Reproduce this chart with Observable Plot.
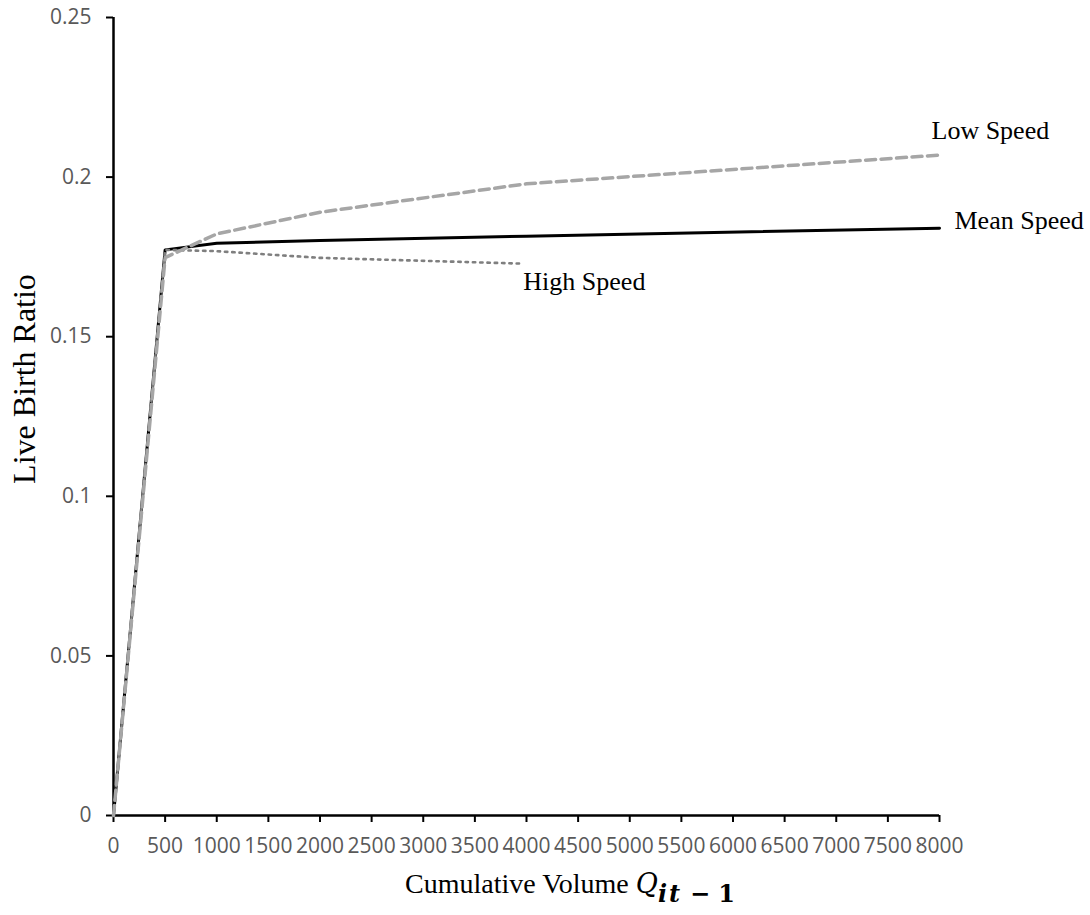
<!DOCTYPE html>
<html>
<head>
<meta charset="utf-8">
<script src="https://cdn.jsdelivr.net/npm/d3@7"></script>
<script src="https://cdn.jsdelivr.net/npm/@observablehq/plot@0.6"></script>
<style>
  html, body { margin: 0; padding: 0; background: #fff; }
  #chart { width: 1090px; height: 915px; }
</style>
</head>
<body>
<div id="chart"></div>
<script>
// Data
const volumes   = [0, 500, 1000, 2000, 4000, 8000];
const lowSpeed  = [0, 0.1748, 0.1822, 0.189, 0.1979, 0.2069];
const meanSpeed = [0, 0.1772, 0.1793, 0.1801, 0.1815, 0.184];
const highVolumes = [0, 500, 1000, 2000, 3950];
const highSpeed = [0, 0.1772, 0.1768, 0.1747, 0.1729];
const xTicks = d3.range(0, 8001, 500);
const yTicks = [0, 0.05, 0.1, 0.15, 0.2, 0.25];
const seriesLabels = ["Low Speed", "Mean Speed", "High Speed"];

const low  = volumes.map((x, i) => ({x, y: lowSpeed[i]}));
const mean = volumes.map((x, i) => ({x, y: meanSpeed[i]}));
const high = highVolumes.map((x, i) => ({x, y: highSpeed[i]}));

const W = 1090, H = 915;
const serif = "'Liberation Serif', 'Times New Roman', serif";
const sans = "'Open Sans', 'Noto Sans', sans-serif";
const math = "'DejaVu Serif', serif";

const plot = Plot.plot({
  width: W,
  height: H,
  marginLeft: 113,
  marginRight: 151,
  marginTop: 17,
  marginBottom: 100,
  style: {fontFamily: sans, fontSize: "21px", color: "#595959", background: "#fff", overflow: "visible"},
  x: {domain: [0, 8000], ticks: xTicks, tickFormat: d => String(d), label: null},
  y: {domain: [0, 0.25], ticks: yTicks, tickFormat: d => String(+d.toFixed(2)), label: null},
  marks: [
    Plot.axisX({ticks: xTicks, tickFormat: d => String(d), tickSize: 7, tickPadding: 16, stroke: "#000", strokeWidth: 2, fill: "#595959", label: null}),
    Plot.axisY({ticks: yTicks, tickFormat: d => String(+d.toFixed(2)), tickSize: 7, tickPadding: 15, stroke: "#000", strokeWidth: 2, fill: "#595959", label: null}),
    Plot.ruleX([0], {stroke: "#000", strokeWidth: 2.5}),
    Plot.ruleY([0], {stroke: "#000", strokeWidth: 2.5}),
    Plot.line(mean, {x: "x", y: "y", stroke: "#000", strokeWidth: 3}),
    Plot.line(high, {x: "x", y: "y", stroke: "#7f7f7f", strokeWidth: 2.6, strokeDasharray: "2.4,4.9"}),
    Plot.line(low, {x: "x", y: "y", stroke: "#a6a6a6", strokeWidth: 3.5, strokeDasharray: "10,5.5"}),
    Plot.text([low[low.length - 1]], {x: "x", y: "y", text: () => seriesLabels[0], textAnchor: "start", dx: -8, dy: -24, fontFamily: serif, fontSize: 26, fill: "#000"}),
    Plot.text([mean[mean.length - 1]], {x: "x", y: "y", text: () => seriesLabels[1], textAnchor: "start", dx: 15, dy: -8, fontFamily: serif, fontSize: 26, fill: "#000"}),
    Plot.text([high[high.length - 1]], {x: "x", y: "y", text: () => seriesLabels[2], textAnchor: "start", dx: 2, dy: 18, fontFamily: serif, fontSize: 26, fill: "#000"})
  ]
});

const svg = d3.select(plot);
// Y axis title
svg.append("text")
  .attr("transform", "translate(35,379) rotate(-90)")
  .attr("text-anchor", "middle")
  .attr("font-family", serif)
  .attr("font-size", 32)
  .attr("fill", "#000")
  .text("Live Birth Ratio");
// X axis title with italic math subscript
const xt = svg.append("text")
  .attr("x", 405)
  .attr("y", 893)
  .attr("text-anchor", "start")
  .attr("font-family", serif)
  .attr("font-size", 28)
  .attr("fill", "#000");
xt.append("tspan").text("Cumulative Volume ");
xt.append("tspan").attr("font-style", "italic").attr("font-family", math).attr("font-size", 27).text("Q");
xt.append("tspan").attr("dy", 9).attr("font-size", 24).attr("font-style", "italic").attr("font-weight", "bold").attr("font-family", math).attr("letter-spacing", 2).text("it");
xt.append("tspan").attr("dx", 8).attr("font-size", 24).attr("font-weight", "bold").attr("font-family", math).text("−");
xt.append("tspan").attr("dx", 8).attr("font-size", 24).attr("font-weight", "bold").attr("font-family", math).text("1");

document.getElementById("chart").appendChild(plot);
</script>
</body>
</html>
